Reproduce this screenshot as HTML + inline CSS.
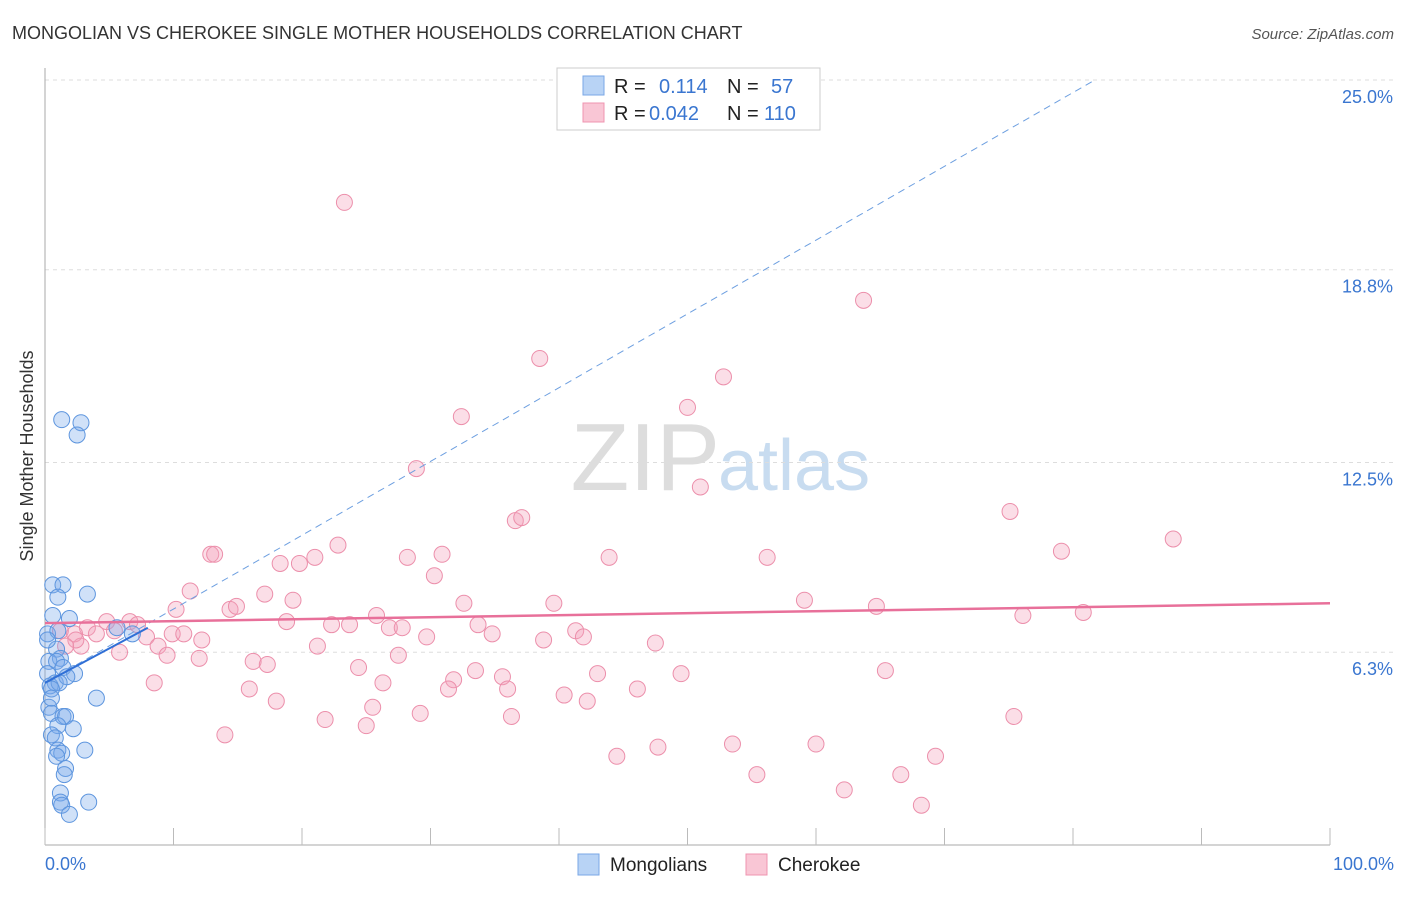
<!DOCTYPE html>
<html><head><meta charset="utf-8"><style>
body{margin:0;background:#fff;font-family:"Liberation Sans",sans-serif}
svg text{font-family:"Liberation Sans",sans-serif}
</style></head><body>
<svg id="chart" width="1406" height="892">
<text x="12" y="39" font-size="18" fill="#333">MONGOLIAN VS CHEROKEE SINGLE MOTHER HOUSEHOLDS CORRELATION CHART</text>
<text x="1394" y="39" font-size="15" fill="#555" font-style="italic" text-anchor="end">Source: ZipAtlas.com</text>
<text x="720" y="490" font-size="96" fill="#ddd" text-anchor="end" font-family="Liberation Serif">ZIP</text>
<text x="718" y="490" font-size="72" fill="#c8dcf0">atlas</text>
<g id="grid"></g>
<line x1="45" y1="68" x2="45" y2="845" stroke="#aaa"/>
<line x1="45" y1="845" x2="1330" y2="845" stroke="#aaa"/>
<g id="ticks"></g>
<text x="33" y="456" font-size="18" fill="#333" text-anchor="middle" transform="rotate(-90 33 456)">Single Mother Households</text>
<text x="45" y="870" font-size="18" fill="#3a76d0">0.0%</text>
<text x="1394" y="870" font-size="18" fill="#3a76d0" text-anchor="end">100.0%</text>
<g id="pts"></g>
<g id="lines"></g>
<g>
<rect x="557" y="68" width="263" height="62" fill="#fff" stroke="#ccc"/>
<rect x="583" y="76" width="21" height="19" fill="#b8d3f5" stroke="#7aa7e6"/>
<rect x="583" y="103" width="21" height="19" fill="#f9c6d5" stroke="#ef94b0"/>
<text x="614" y="93" font-size="20" fill="#222">R =</text><text x="659" y="93" font-size="20" fill="#3a76d0">0.114</text>
<text x="727" y="93" font-size="20" fill="#222">N =</text><text x="771" y="93" font-size="20" fill="#3a76d0">57</text>
<text x="614" y="120" font-size="20" fill="#222">R =</text><text x="649" y="120" font-size="20" fill="#3a76d0">0.042</text>
<text x="727" y="120" font-size="20" fill="#222">N =</text><text x="764" y="120" font-size="20" fill="#3a76d0">110</text>
</g>
<g>
<rect x="578" y="854" width="21" height="21" fill="#b8d3f5" stroke="#7aa7e6"/>
<text x="610" y="871" font-size="19" fill="#222">Mongolians</text>
<rect x="746" y="854" width="21" height="21" fill="#f9c6d5" stroke="#ef94b0"/>
<text x="778" y="871" font-size="19" fill="#222">Cherokee</text>
</g>
</svg>
<script>
const yTicks=[25.0,18.8,12.5,6.3];
const yTickLabels=["25.0%","18.8%","12.5%","6.3%"];
const pinkX=[23.3,63.7,38.5,52.8,50,32.4,28.9,51,36.6,37.1,75.1,79.1,87.8,12.9,13.2,22.8,28.2,30.9,43.9,56.2,21,18.3,19.8,30.3,11.3,17.1,19.3,59.1,64.7,80.8,76.1,32.6,39.6,10.2,14.4,14.9,25.8,4.8,6.6,7.2,18.8,22.3,23.7,26.8,27.8,33.7,41.3,34.8,41.9,38.8,47.5,3.3,4.0,5.4,1.2,2.3,7.9,9.9,10.8,12.2,21.2,29.7,2.8,5.8,8.8,9.5,12,16.2,17.3,27.5,24.4,33.5,35.6,31.8,43,49.5,65.4,8.5,15.9,26.3,31.4,36,46.1,40.4,18,25.5,42.2,21.8,25,29.2,36.3,75.4,14,44.5,47.7,53.5,60,55.4,66.6,69.3,62.2,68.2,2.4,1.6];
const pinkY=[21.0,17.8,15.9,15.3,14.3,14.0,12.3,11.7,10.6,10.7,10.9,9.6,10.0,9.5,9.5,9.8,9.4,9.5,9.4,9.4,9.4,9.2,9.2,8.8,8.3,8.2,8.0,8.0,7.8,7.6,7.5,7.9,7.9,7.7,7.7,7.8,7.5,7.3,7.3,7.2,7.3,7.2,7.2,7.1,7.1,7.2,7.0,6.9,6.8,6.7,6.6,7.1,6.9,7.0,7.0,6.9,6.8,6.9,6.9,6.7,6.5,6.8,6.5,6.3,6.5,6.2,6.1,6.0,5.9,6.2,5.8,5.7,5.5,5.4,5.6,5.6,5.7,5.3,5.1,5.3,5.1,5.1,5.1,4.9,4.7,4.5,4.7,4.1,3.9,4.3,4.2,4.2,3.6,2.9,3.2,3.3,3.3,2.3,2.3,2.9,1.8,1.3,6.7,6.5];
const blueX=[1.3,2.8,2.5,0.6,1.4,1.0,3.3,0.6,1.9,0.2,1.0,5.6,6.8,0.9,1.2,0.3,0.9,1.4,0.2,2.3,0.8,1.7,0.4,1.1,0.5,4.0,0.3,0.5,1.4,1.6,1.0,2.2,0.5,0.8,1.0,1.3,3.1,0.9,1.6,1.5,1.2,1.2,1.3,3.4,1.9,0.2,0.5];
const blueY=[13.9,13.8,13.4,8.5,8.5,8.1,8.2,7.5,7.4,6.9,7.0,7.1,6.9,6.4,6.1,6.0,6.0,5.8,5.6,5.6,5.3,5.5,5.2,5.3,5.1,4.8,4.5,4.3,4.2,4.2,3.9,3.8,3.6,3.5,3.1,3.0,3.1,2.9,2.5,2.3,1.7,1.4,1.3,1.4,1.0,6.7,4.8];
const X=v=>45+v*12.85, Y=v=>845-v*30.6;
const NS="http://www.w3.org/2000/svg";
function mk(t,a,p){const e=document.createElementNS(NS,t);for(const k in a)e.setAttribute(k,a[k]);document.getElementById(p).appendChild(e);return e;}
yTicks.forEach((v,i)=>{
 const g=mk('line',{x1:45,x2:1394,y1:Y(v),y2:Y(v),stroke:'#ddd','stroke-dasharray':'4,4'},'grid');
 
 
 const t=mk('text',{x:1393,y:Y(v)+23,'font-size':18,fill:'#3a76d0','text-anchor':'end'},'grid');
 t.textContent=yTickLabels[i];
 
 
});
for(let i=0;i<=10;i++){
 const t=mk('line',{x1:X(i*10),x2:X(i*10),y1:828,y2:845,stroke:'#bbb'},'ticks');
 
 
}
pinkX.forEach((x,i)=>{
 const c=mk('circle',{cx:X(x),cy:Y(pinkY[i]),r:8,fill:'rgba(244,160,186,0.35)',stroke:'#ec8fab','stroke-width':1},'pts');
 
 
});
blueX.forEach((x,i)=>{
 const c=mk('circle',{cx:X(x),cy:Y(blueY[i]),r:8,fill:'rgba(120,170,235,0.35)',stroke:'#5d95de','stroke-width':1},'pts');
 
 
});
let l=mk('line',{x1:X(0),y1:Y(5.3),x2:X(81.7),y2:Y(25),stroke:'#6d9fe0','stroke-width':1,'stroke-dasharray':'7,5'},'lines');


l=mk('line',{x1:X(0),y1:Y(5.3),x2:X(8),y2:Y(7.1),stroke:'#2f6fd6','stroke-width':2},'lines');


l=mk('line',{x1:X(0),y1:Y(7.25),x2:X(100),y2:Y(7.9),stroke:'#e8709a','stroke-width':2.5},'lines');


</script>
</body></html>
